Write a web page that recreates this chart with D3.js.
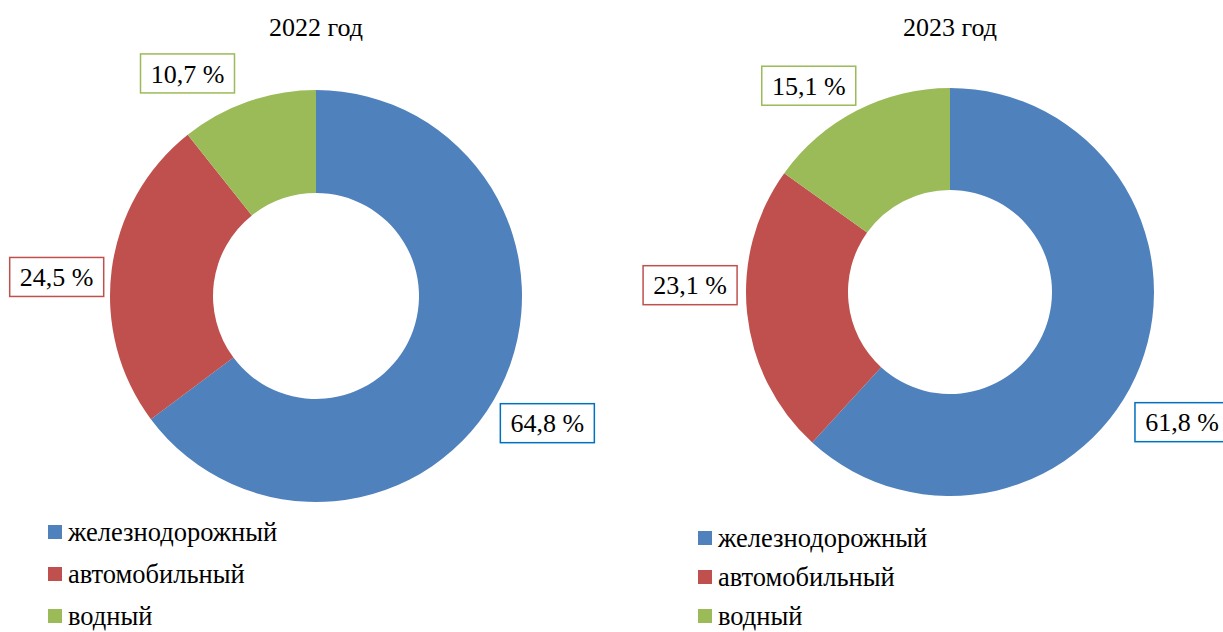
<!DOCTYPE html>
<html>
<head>
<meta charset="utf-8">
<script src="https://cdn.jsdelivr.net/npm/d3@7"></script>
<style>
  body { margin: 0; background: #fff; }
  svg { display: block; }
  #chart text { font-family: "Liberation Serif", "Times New Roman", Tinos, serif; }
</style>
</head>
<body>
<svg id="chart" width="1223" height="632"></svg>
<script>
// data
const categories = ["железнодорожный", "автомобильный", "водный"];
const years = ["2022 год", "2023 год"];
const values2022 = [64.8, 24.5, 10.7];
const values2023 = [61.8, 23.1, 15.1];

const colors = ["#4f81bd", "#c0504d", "#9bbb59"];
const labelBorders = ["#0070c0", "#c0504d", "#9bbb59"];

// layout for each panel (centre, radius, label placement as angle/distance, legend)
const panels = [
  { title: years[0], values: values2022, cx: 316, cy: 296, r: 206, titleY: 27,
    labels: [[118.8, 264], [274.2, 260], [330, 257]],
    legendX: 48, legendY: 532, legendStep: 42 },
  { title: years[1], values: values2023, cx: 950, cy: 292, r: 204, titleY: 27,
    labels: [[119.3, 266], [271.5, 260], [325.6, 250]],
    legendX: 698, legendY: 538, legendStep: 39 }
];

const svg = d3.select("#chart");
const fmt = v => v.toFixed(1).replace(".", ",") + " %";

const pie = d3.pie().sort(null).value(d => d);

panels.forEach(p => {
  const g = svg.append("g");

  g.append("text")
    .attr("x", p.cx)
    .attr("y", p.titleY)
    .attr("dy", "0.35em")
    .attr("text-anchor", "middle")
    .attr("font-size", 26)
    .text(p.title);

  const arc = d3.arc().innerRadius(p.r * 0.5).outerRadius(p.r);
  const arcs = pie(p.values);

  g.append("g")
    .attr("transform", `translate(${p.cx},${p.cy})`)
    .selectAll("path")
    .data(arcs)
    .join("path")
    .attr("fill", (d, i) => colors[i])
    .attr("d", arc);

  // data labels in boxes
  arcs.forEach((d, i) => {
    const [ang, dist] = p.labels[i];
    const a = ang * Math.PI / 180;
    const x = p.cx + dist * Math.sin(a);
    const y = p.cy - dist * Math.cos(a);
    const lg = g.append("g").attr("transform", `translate(${x},${y})`);
    lg.append("text")
      .attr("text-anchor", "middle")
      .attr("dy", "0.35em")
      .attr("font-size", 26)
      .text(fmt(d.data));
    const w = 94, h = 39;
    lg.insert("rect", "text")
      .attr("x", -w / 2)
      .attr("y", -h / 2)
      .attr("width", w)
      .attr("height", h)
      .attr("fill", "#fff")
      .attr("stroke", labelBorders[i])
      .attr("stroke-width", 1.5);
  });

  // legend
  const leg = g.append("g");
  categories.forEach((c, i) => {
    const y = p.legendY + i * p.legendStep;
    leg.append("rect")
      .attr("x", p.legendX)
      .attr("y", y - 7)
      .attr("width", 14)
      .attr("height", 14)
      .attr("fill", colors[i]);
    leg.append("text")
      .attr("x", p.legendX + 20)
      .attr("y", y)
      .attr("dy", "0.35em")
      .attr("font-size", 26.5)
      .text(c);
  });
});
</script>
</body>
</html>
